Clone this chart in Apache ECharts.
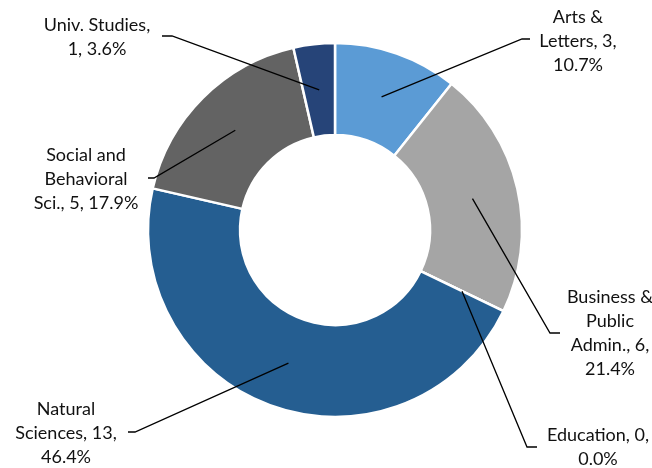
<!DOCTYPE html>
<html>
<head>
<meta charset="utf-8">
<script src="https://cdn.jsdelivr.net/npm/echarts@6/dist/echarts.min.js"></script>
<style>
html,body{margin:0;padding:0;background:#fff;}
#chart{width:652px;height:468px;}
</style>
</head>
<body>
<div id="chart"></div>
<script>
// ---- data ----
const categories = ['Arts & Letters', 'Business & Public Admin.', 'Education', 'Natural Sciences', 'Social and Behavioral Sci.', 'Univ. Studies'];
const counts = [3, 6, 0, 13, 5, 1];
const colors = ['#5B9BD5', '#A5A5A5', '#FFC000', '#255E91', '#636363', '#264478'];
// words per label line
const labelBreaks = [[2, 2, 1], [2, 1, 2, 1], [2, 1], [1, 2, 1], [2, 1, 3], [2, 2]];

// ---- label placement (layout, not data) ----
const labelCenters = [[578, 41], [610, 333], [598, 447], [66, 433], [86, 179], [97, 37]];
const lineElbows = [[522, 39], [550, 333], [527, 447], [135, 432], [154, 178], [172, 36]];
const lineEnds = [[530, 39], [560, 333], [537, 447], [128, 432], [148, 178], [162, 36]];

const chart = echarts.init(document.getElementById('chart'), null, {renderer: 'canvas'});

function fmt(p) {
  const words = (p.name + ', ' + p.value + ', ' + (p.value / counts.reduce((a, b) => a + b, 0) * 100).toFixed(1) + '%').split(' ');
  const br = labelBreaks[p.dataIndex];
  const lines = [];
  let k = 0;
  br.forEach(n => { lines.push(words.slice(k, k + n).join(' ')); k += n; });
  if (k < words.length) lines[lines.length - 1] += ' ' + words.slice(k).join(' ');
  return lines.join('\n');
}

const data = categories.map((c, i) => ({name: c, value: counts[i], itemStyle: {color: colors[i]}}));

chart.setOption({
  animation: false,
  series: [
    {
      type: 'pie',
      center: [335, 230],
      radius: [95, 187],
      startAngle: 90,
      clockwise: true,
      silent: true,
      itemStyle: {borderColor: '#ffffff', borderWidth: 2.5},
      label: {show: false},
      labelLine: {show: false},
      data: data
    },
    {
      type: 'pie',
      center: [335, 230],
      radius: [0, 141],
      startAngle: 90,
      clockwise: true,
      silent: true,
      z: 5,
      itemStyle: {color: 'rgba(0,0,0,0)', borderWidth: 0},
      label: {
        show: true,
        position: 'outside',
        formatter: fmt,
        color: '#111',
        fontFamily: 'Lato',
        fontSize: 18,
        lineHeight: 24,
        align: 'center'
      },
      labelLine: {show: true, length: 10, length2: 10, lineStyle: {color: '#000', width: 1.3}},
      labelLayout: function (params) {
        const i = params.dataIndex;
        const start = params.labelLinePoints ? params.labelLinePoints[0] : lineElbows[i];
        return {
          x: labelCenters[i][0],
          y: labelCenters[i][1],
          align: 'center',
          verticalAlign: 'middle',
          labelLinePoints: [start, lineElbows[i], lineEnds[i]]
        };
      },
      data: data.map(d => ({name: d.name, value: d.value}))
    }
  ]
});
</script>
</body>
</html>
